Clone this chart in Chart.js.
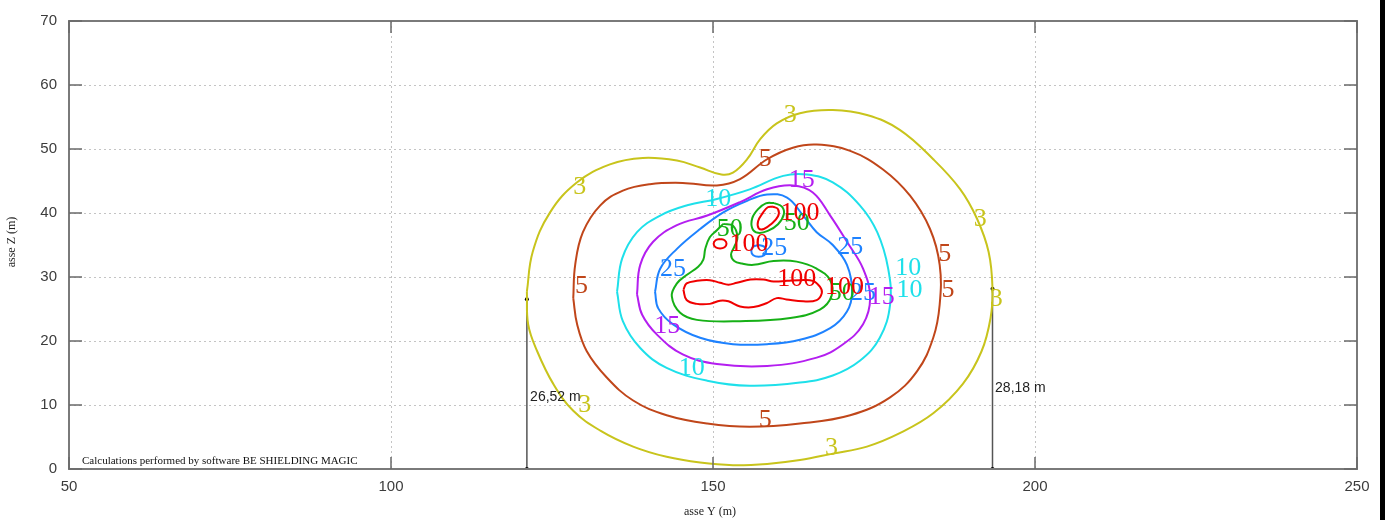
<!DOCTYPE html>
<html><head><meta charset="utf-8">
<script src="https://cdn.jsdelivr.net/npm/chart.js@4.4.1/dist/chart.umd.min.js"></script>
<style>html,body{margin:0;padding:0;background:#fff;}canvas{display:block;}</style>
</head><body>
<canvas id="c" width="1385" height="520"></canvas>
<script>
// ---- data ----
const xTicks = [50, 100, 150, 200, 250];
const zTicks = [0, 10, 20, 30, 40, 50, 60, 70];

const iso3 = [[121.1,27.7],[122.0,33.9],[124.7,40.1],[128.9,44.8],[134.0,47.6],[139.1,48.6],[144.4,48.2],[148.0,47.1],[151.3,46.0],[153.1,46.3],[155.3,48.4],[157.3,51.5],[159.9,54.0],[163.5,55.6],[168.6,56.1],[173.9,55.3],[179.0,53.0],[184.2,48.4],[188.4,43.7],[191.0,39.1],[192.8,33.9],[193.4,28.2],[193.1,23.6],[191.7,18.4],[188.8,13.3],[184.2,8.7],[179.0,5.6],[173.9,3.5],[168.6,2.4],[163.5,1.4],[158.4,0.8],[153.1,0.6],[148.0,1.0],[142.8,1.9],[137.6,3.5],[132.5,6.0],[128.3,9.1],[125.2,13.3],[122.7,18.4],[121.3,22.6],[121.1,27.7]];
const iso5 = [[128.3,26.7],[128.6,31.9],[129.8,37.0],[132.5,41.2],[136.0,43.5],[140.2,44.5],[145.3,44.7],[150.6,44.3],[154.2,45.3],[158.4,48.4],[162.4,50.2],[166.1,50.7],[171.3,49.7],[176.4,46.8],[180.6,42.7],[183.7,37.5],[185.2,31.9],[185.2,25.7],[184.2,20.5],[181.7,15.3],[177.5,11.2],[171.3,8.4],[163.5,7.1],[155.7,6.6],[149.1,7.1],[142.8,8.4],[137.6,10.7],[133.5,14.3],[130.4,18.4],[128.9,22.6],[128.3,26.7]];
const iso10 = [[135.1,27.7],[135.9,32.9],[138.2,37.0],[141.8,39.6],[146.0,41.2],[150.6,42.2],[155.7,43.7],[160.9,45.8],[164.6,46.0],[168.6,44.8],[172.8,41.2],[175.5,37.0],[177.2,31.3],[177.5,25.7],[175.9,20.5],[172.8,16.9],[168.6,14.6],[163.5,13.5],[155.7,13.0],[149.1,13.8],[142.8,15.8],[138.7,18.9],[136.0,23.1],[135.1,27.7]];
const iso15 = [[138.2,27.3],[138.7,31.9],[140.7,35.5],[144.4,38.1],[149.1,39.6],[154.2,41.7],[158.4,43.7],[162.4,44.3],[165.5,43.2],[168.2,39.6],[170.8,35.5],[173.3,31.3],[174.4,26.7],[173.3,22.6],[170.2,19.5],[166.1,17.4],[158.4,16.1],[150.6,16.4],[145.3,17.9],[141.3,21.0],[139.0,24.1],[138.2,27.3]];
const iso25 = [[141.0,27.7],[141.8,31.3],[144.4,34.4],[148.0,37.5],[151.6,40.1],[155.3,41.9],[158.4,42.9],[161.5,42.4],[164.0,39.6],[166.1,37.0],[168.6,35.0],[170.8,31.9],[171.6,27.7],[170.8,24.6],[168.2,22.0],[163.5,20.2],[158.4,19.5],[153.1,19.5],[148.0,20.5],[143.8,22.6],[141.5,25.1],[141.0,27.7]];
const iso25b = [[157.1,35.0],[157.95,34.75],[158.25,34.07],[157.95,33.4],[157.1,33.15],[156.25,33.4],[155.95,34.07],[156.25,34.75],[157.1,35.0]];
const iso50 = [[151.6,38.3],[150.6,37.3],[149.5,36.2],[148.8,34.4],[148.5,32.7],[147.7,31.6],[145.9,30.3],[144.4,29.0],[143.6,27.0],[144.9,24.4],[147.5,23.3],[154.2,23.1],[162.0,23.6],[166.6,24.9],[168.4,27.0],[168.2,29.5],[166.1,31.3],[163.0,32.4],[159.4,32.5],[156.3,31.9],[154.5,32.1],[153.3,32.5],[152.8,33.5],[153.3,34.7],[153.8,36.2],[153.1,38.0],[151.6,38.3]];
const iso50b = [[159.5,41.55],[160.7,41.0],[161.0,39.8],[160.1,38.25],[158.5,37.2],[157.0,36.9],[156.1,37.6],[156.1,39.2],[157.0,40.6],[158.2,41.5],[159.5,41.55]];
const iso100 = [[145.4,28.0],[145.9,29.0],[147.5,29.4],[149.5,29.5],[151.1,29.1],[152.4,28.8],[153.7,29.1],[155.8,29.6],[157.8,29.6],[159.4,29.3],[161.5,29.4],[163.5,29.5],[165.5,29.4],[166.6,28.5],[166.9,27.5],[166.1,26.4],[164.0,26.2],[161.4,26.5],[159.9,26.7],[158.3,25.9],[156.3,25.3],[154.2,25.4],[152.4,26.2],[151.1,26.3],[149.5,25.8],[147.5,25.8],[145.9,26.4],[145.4,28.0]];
const iso100b = [[159.3,41.0],[160.1,40.6],[160.1,39.5],[159.0,38.25],[157.9,37.5],[157.1,37.6],[157.0,38.7],[157.8,40.1],[158.5,40.9],[159.3,41.0]];
const iso100c = [[151.1,35.95],[151.8,35.75],[152.1,35.2],[151.8,34.65],[151.1,34.45],[150.4,34.65],[150.1,35.2],[150.4,35.75],[151.1,35.95]];
const measureL = [[121.1,0],[121.1,26.52]];
const measureR = [[193.4,0],[193.4,28.18]];

const contourLabels = [
  ['3',129.3,44.0],['3',162.0,55.3],['3',191.5,39.1],['3',194.0,26.5],['3',130.1,9.9],['3',168.4,3.25],
  ['5',158.1,48.4],['5',129.6,28.5],['5',186.0,33.5],['5',186.5,28.0],['5',158.1,7.6],
  ['10',150.8,42.1],['10',180.3,31.4],['10',180.5,28.0],['10',146.7,15.8],
  ['15',163.8,45.2],['15',142.9,22.3],['15',176.2,26.8],
  ['25',143.8,31.3],['25',159.5,34.5],['25',171.3,34.7],['25',173.3,27.4],
  ['50',152.6,37.5],['50',163.0,38.4],['50',170.0,27.4],
  ['100',155.6,35.2],['100',163.5,40.0],['100',163.0,29.6],['100',170.4,28.4]
];
const measureLabels = [['26,52 m',121.6,11.3],['28,18 m',193.8,12.6]];

// ---- styles ----
const colors = {'3':'#c8c41c','5':'#c0461a','10':'#1ee0ea','15':'#b41ef0','25':'#1e82ff','50':'#16b016','100':'#f00000'};
const toPts = a => a.map(p => ({x:p[0], y:p[1]}));
const mk = (arr, key) => ({data: toPts(arr), borderColor: colors[key], borderWidth: 2, showLine: true, pointRadius: 0, tension: 0.4, fill: false});

const datasets = [
  mk(iso3,'3'), mk(iso5,'5'), mk(iso10,'10'), mk(iso15,'15'), mk(iso25,'25'), mk(iso25b,'25'),
  mk(iso50,'50'), mk(iso50b,'50'), mk(iso100,'100'), mk(iso100b,'100'), mk(iso100c,'100'),
  {data: toPts(measureL), borderColor:'#555', borderWidth:1.5, showLine:true, pointRadius:2, pointBackgroundColor:'#000', pointBorderWidth:0},
  {data: toPts(measureR), borderColor:'#555', borderWidth:1.5, showLine:true, pointRadius:2, pointBackgroundColor:'#000', pointBorderWidth:0}
];

const overlay = {
  id: 'overlay',
  afterDatasetsDraw(chart) {
    const {ctx, chartArea: a, scales: {x, y}} = chart;
    ctx.save();
    ctx.textAlign = 'center'; ctx.textBaseline = 'middle';
    ctx.font = '26px "Liberation Serif"';
    contourLabels.forEach(l => { ctx.fillStyle = colors[l[0]]; ctx.fillText(l[0], x.getPixelForValue(l[1]), y.getPixelForValue(l[2])); });
    ctx.textAlign = 'left';
    ctx.font = '14px "Liberation Sans"'; ctx.fillStyle = '#222';
    measureLabels.forEach(l => ctx.fillText(l[0], x.getPixelForValue(l[1]), y.getPixelForValue(l[2])));
    // frame
    ctx.strokeStyle = '#7a7a7a'; ctx.lineWidth = 2;
    ctx.strokeRect(a.left, a.top, a.right - a.left, a.bottom - a.top);
    // inward ticks
    ctx.lineWidth = 1.5; ctx.strokeStyle = '#6a6a6a'; ctx.beginPath();
    xTicks.forEach(v => { const px = x.getPixelForValue(v); ctx.moveTo(px, a.bottom); ctx.lineTo(px, a.bottom - 12); ctx.moveTo(px, a.top); ctx.lineTo(px, a.top + 12); });
    zTicks.forEach(v => { const py = y.getPixelForValue(v); ctx.moveTo(a.left, py); ctx.lineTo(a.left + 13, py); ctx.moveTo(a.right, py); ctx.lineTo(a.right - 13, py); });
    ctx.stroke();
    // footnote
    ctx.font = '11px "Liberation Serif"'; ctx.fillStyle = '#111'; ctx.textAlign = 'left'; ctx.textBaseline = 'alphabetic';
    ctx.fillText('Calculations performed by software BE SHIELDING MAGIC', a.left + 13, a.bottom - 5);
    ctx.restore();
  },
  afterDraw(chart) {
    const {ctx, chartArea: a} = chart;
    ctx.save();
    ctx.font = '12px "Liberation Serif"'; ctx.fillStyle = '#222'; ctx.textAlign = 'center'; ctx.textBaseline = 'middle';
    ctx.fillText('asse Y (m)', (a.left + a.right) / 2 - 3, a.bottom + 43);
    ctx.translate(12, (a.top + a.bottom) / 2 - 3); ctx.rotate(-Math.PI / 2);
    ctx.fillText('asse Z (m)', 0, 0);
    ctx.restore();
    ctx.fillStyle = '#000'; ctx.fillRect(1380, 0, 5, 520);
  }
};

new Chart(document.getElementById('c'), {
  type: 'scatter',
  data: {datasets},
  options: {
    responsive: false, animation: false,
    layout: {padding: {left: 0, top: 18, right: 28, bottom: 0}},
    plugins: {legend: {display: false}, tooltip: {enabled: false}},
    scales: {
      x: {
        type: 'linear', min: 50, max: 250,
        afterBuildTicks: s => { s.ticks = xTicks.map(v => ({value: v})); },
        afterFit: s => { s.height = 51; },
        grid: {color: '#c4c4c4', lineWidth: 1, drawTicks: false},
        border: {display: false, dash: [2, 3]},
        ticks: {padding: 9, font: {family: 'Liberation Sans', size: 15}, color: '#3c3c3c', maxRotation: 0}
      },
      y: {
        type: 'linear', min: 0, max: 70,
        afterBuildTicks: s => { s.ticks = zTicks.map(v => ({value: v})); },
        afterFit: s => { s.width = 69; },
        grid: {color: '#c4c4c4', lineWidth: 1, drawTicks: false},
        border: {display: false, dash: [2, 3]},
        ticks: {padding: 12, font: {family: 'Liberation Sans', size: 15}, color: '#3c3c3c'}
      }
    }
  },
  plugins: [overlay]
});
</script>
</body></html>
